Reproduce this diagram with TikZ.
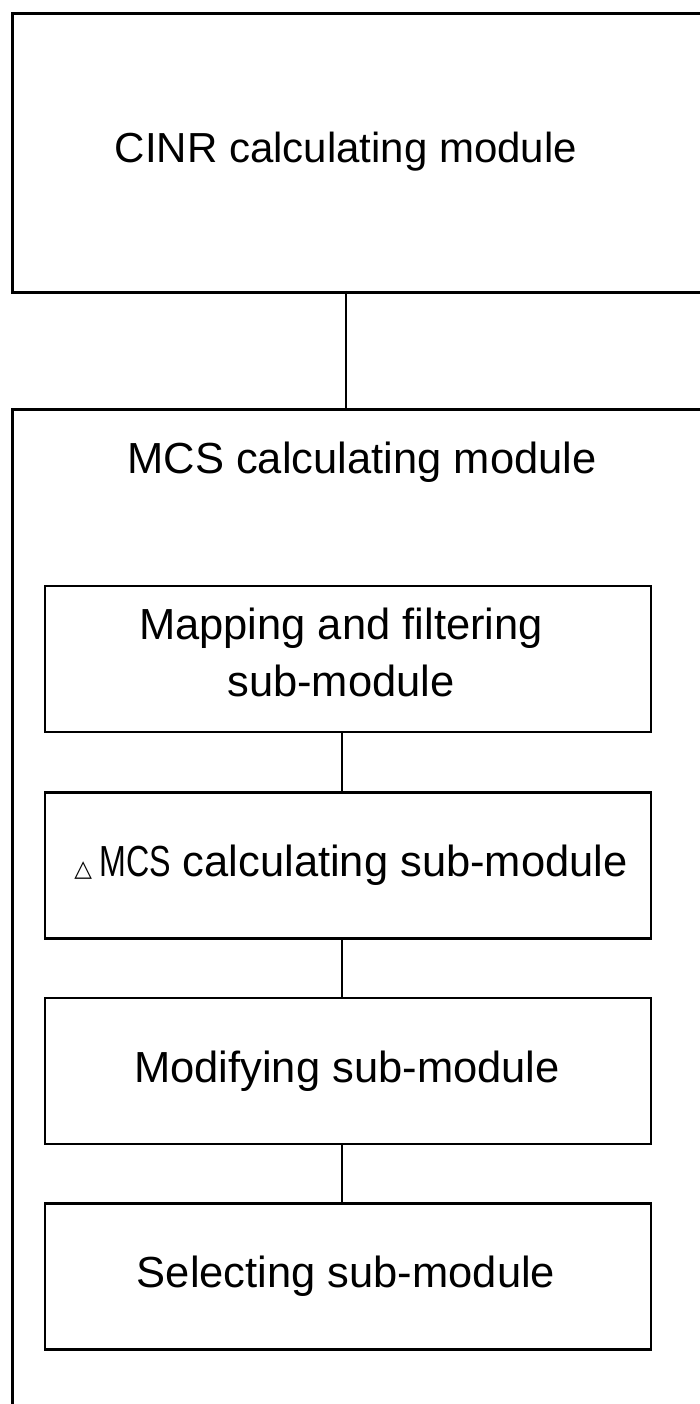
\documentclass[tikz,border=0pt]{standalone}
\usepackage{fontspec}
\usepackage{graphicx}
\setmainfont{Liberation Sans}
\newfontfamily\symfont{DejaVu Sans}
\begin{document}
\begin{tikzpicture}[x=1pt,y=-1pt,
  frame/.style={draw=black,line width=2.8pt,rectangle,inner sep=0pt,anchor=north west},
  subbox/.style={draw=black,line width=2.6pt,rectangle,inner sep=0pt,minimum width=606pt,minimum height=146pt,align=center},
  label/.style={font=\fontsize{43.5}{57}\selectfont,inner sep=0pt,align=center},
  link/.style={draw=black,line width=2.6pt}]
\useasboundingbox (0,0) rectangle (700,1404);
\clip (0,0) rectangle (700,1404);
\fill[white] (0,0) rectangle (700,1404);
% outer frames
\node[frame,minimum width=800pt,minimum height=279pt] (cinrbox) at (11,12) {};
\node[label,font=\fontsize{42}{57}\selectfont] (cinr) at (346,152) {CINR calculating module};
\node[frame,minimum width=800pt,minimum height=1100pt] (mcsbox) at (11,408) {};
\node[label] (mcs) at (362,462) {MCS calculating module};
% sub-modules
\node[subbox] (map) at (348,659) {};
\node[label] (maptext) at (341,652) {Mapping and filtering\\sub-module};
\node[subbox] (dmcs) at (348,865.5) {};
\node[label] (dmcstext) at (351,865.5) {{\symfont\fontsize{23}{23}\selectfont △}\,\scalebox{0.74}[1]{MCS} calculating sub-module};
\node[subbox] (modi) at (348,1071) {};
\node[label] (moditext) at (347,1071) {Modifying sub-module};
\node[subbox] (sel) at (348,1276.5) {};
\node[label] (seltext) at (346,1276.5) {Selecting sub-module};
% connectors
\coordinate (c1) at (346,291);
\coordinate (c2) at (346,408);
\draw[link] (c1) -- (c2);
\draw[link] ([xshift=-6pt]map.south) -- ([xshift=-6pt]dmcs.north);
\draw[link] ([xshift=-6pt]dmcs.south) -- ([xshift=-6pt]modi.north);
\draw[link] ([xshift=-6pt]modi.south) -- ([xshift=-6pt]sel.north);
\end{tikzpicture}
\end{document}
